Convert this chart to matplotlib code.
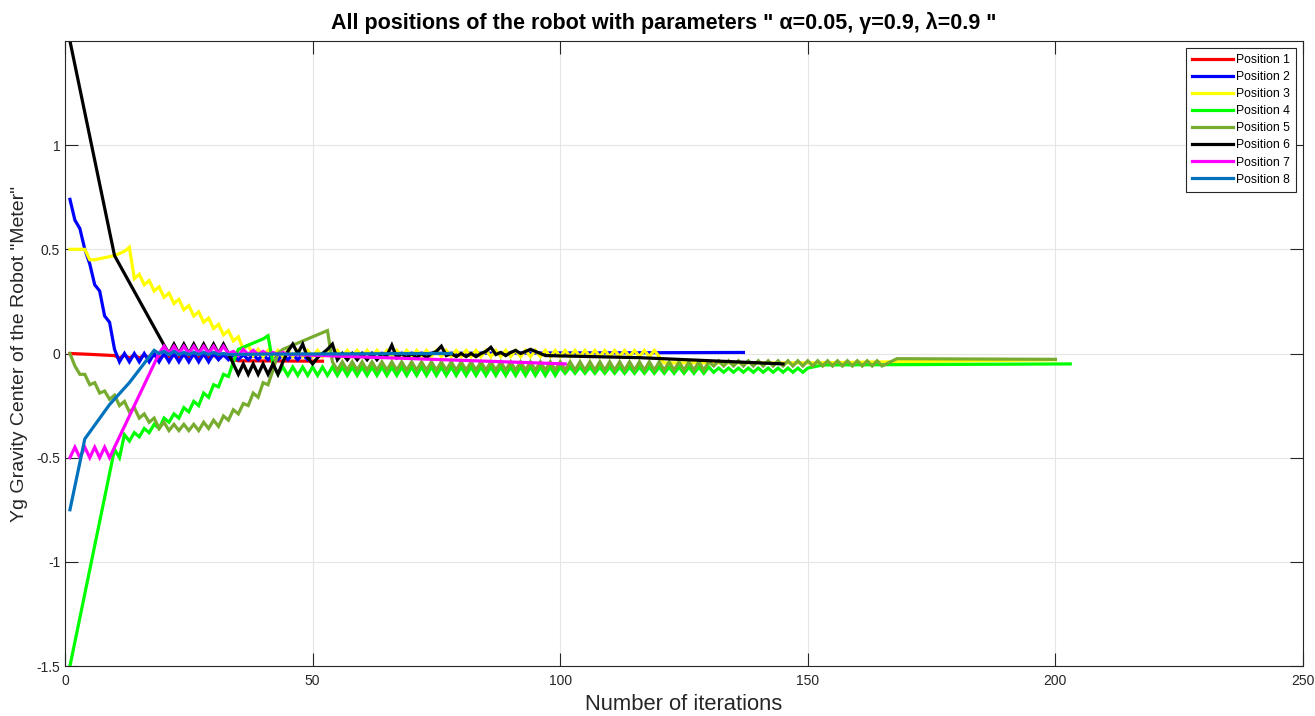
# positions of the robot (Yg of gravity center) vs. iterations
import matplotlib
matplotlib.use("Agg")
import matplotlib.pyplot as plt

plt.rcParams['font.family'] = ['Liberation Sans', 'DejaVu Sans']

# ---- data ----
p1_it = [1, 5, 10] + list(range(11, 34)) + [35, 52]
p1_y = [0.0, -0.004, -0.01,
        -0.022, -0.008, -0.022, -0.008, -0.022, -0.008, -0.022, -0.008, -0.022, -0.008, -0.022, -0.008,
        -0.022, -0.008, -0.022, -0.008, -0.022, -0.008, -0.022, -0.008, -0.022, -0.008, -0.022,
        -0.035, -0.037]

p2_it = list(range(1, 51)) + [60, 137]
p2_y = [0.74, 0.64, 0.60, 0.50, 0.43, 0.33, 0.30, 0.18, 0.15, 0.02, -0.04,
        0.0, -0.04, 0.0, -0.04, 0.0, -0.04, 0.0, -0.04, 0.0, -0.04, 0.0, -0.04, 0.0, -0.04, 0.0, -0.04,
        0.0, -0.04, 0.0,
        -0.03, -0.005, -0.03, -0.005, -0.03, -0.005, -0.03, -0.005, -0.03, -0.005, -0.03, -0.005,
        -0.03, -0.005, -0.03, -0.005, -0.03, -0.005, -0.03,
        -0.01, 0.0, 0.005]

p3_it = list(range(1, 120)) + [121, 150, 200]
p3_y = [0.5, 0.5, 0.5, 0.5, 0.45, 0.45, 0.455, 0.46, 0.465, 0.47, 0.48, 0.49, 0.51,
        0.36, 0.38, 0.33, 0.35, 0.30, 0.32, 0.27, 0.29, 0.24, 0.26, 0.21, 0.23, 0.18, 0.20,
        0.15, 0.17, 0.12, 0.14, 0.09, 0.11, 0.06, 0.08, 0.02, 0.04, -0.01, 0.02, -0.015,
        0.015, -0.015, 0.015, -0.015, 0.015, -0.015, 0.015, -0.015, 0.015, -0.015,
        0.015, -0.015, 0.015, -0.015, 0.015, -0.015, 0.015, -0.015, 0.015, -0.015,
        0.015, -0.015, 0.015, -0.015, 0.015, -0.015, 0.015, -0.015, 0.015, -0.015,
        0.015, -0.015, 0.015, -0.015, 0.015, -0.015, 0.015, -0.015, 0.015, -0.015,
        0.015, -0.015, 0.015, -0.015, 0.015, -0.015, 0.015, -0.015, 0.015, -0.015,
        0.015, -0.015, 0.015, -0.015, 0.015, -0.015, 0.015, -0.015, 0.015, -0.015,
        0.015, -0.015, 0.015, -0.015, 0.015, -0.015, 0.015, -0.015, 0.015, -0.015,
        0.015, -0.015, 0.015, -0.015, 0.015, -0.015, 0.015, -0.015, 0.015,
        -0.045, -0.045, -0.03]

p4_it = [1] + list(range(10, 151)) + [153, 203]
p4_y = [-1.5, -0.46, -0.50,
        -0.39, -0.42, -0.38, -0.40, -0.36, -0.38, -0.34, -0.36, -0.31, -0.33, -0.29, -0.31,
        -0.26, -0.28, -0.23, -0.25, -0.19, -0.21, -0.15, -0.16, -0.10, -0.11, -0.04,
        0.02, 0.03, 0.04, 0.05, 0.06, 0.07, 0.085, -0.05, -0.10,
        -0.065, -0.105, -0.065, -0.105, -0.065, -0.105, -0.065, -0.105, -0.065, -0.105,
        -0.065, -0.105, -0.065, -0.105, -0.065, -0.105, -0.065, -0.105, -0.065, -0.105,
        -0.065, -0.105, -0.065, -0.105, -0.065, -0.105, -0.065, -0.105, -0.065, -0.105,
        -0.065, -0.105, -0.065, -0.105, -0.065, -0.105, -0.065, -0.105, -0.065, -0.105,
        -0.065, -0.105, -0.065, -0.105, -0.065, -0.105, -0.065, -0.105, -0.065, -0.105,
        -0.065, -0.105, -0.065, -0.105, -0.065, -0.105, -0.065,
        -0.095, -0.065, -0.095, -0.065, -0.095, -0.065, -0.095, -0.065, -0.095, -0.065,
        -0.095, -0.065, -0.095, -0.065, -0.095, -0.065, -0.095, -0.065, -0.095, -0.065,
        -0.095, -0.065, -0.095, -0.065, -0.095, -0.065, -0.095, -0.065, -0.095, -0.065,
        -0.09, -0.07, -0.09, -0.07, -0.09, -0.07, -0.09, -0.07, -0.09, -0.07,
        -0.09, -0.07, -0.09, -0.07, -0.09, -0.07, -0.09, -0.07, -0.09, -0.07,
        -0.055, -0.05]

p5_it = list(range(1, 166)) + [168, 200]
p5_y = [0.0, -0.06, -0.10, -0.10, -0.15, -0.14, -0.19, -0.18, -0.22, -0.20,
        -0.25, -0.23, -0.28, -0.26, -0.31, -0.29, -0.33, -0.31, -0.36, -0.33,
        -0.37, -0.34, -0.37, -0.34, -0.37, -0.34, -0.37, -0.33, -0.36, -0.32,
        -0.35, -0.30, -0.32, -0.27, -0.29, -0.24, -0.25, -0.19, -0.21, -0.14,
        -0.15, -0.08, 0.0, 0.02, 0.03, 0.04, 0.05, 0.06, 0.07, 0.08,
        0.09, 0.10, 0.11, -0.04,
        -0.08, -0.04, -0.08, -0.04, -0.08, -0.04, -0.08, -0.04, -0.08, -0.04,
        -0.08, -0.04, -0.08, -0.04, -0.08, -0.04, -0.08, -0.04, -0.08, -0.04,
        -0.08, -0.04, -0.08, -0.04, -0.08, -0.04, -0.08, -0.04, -0.08, -0.04,
        -0.08, -0.04, -0.08, -0.04, -0.08, -0.04, -0.08, -0.04, -0.08, -0.04,
        -0.08, -0.04, -0.08, -0.04, -0.08, -0.04, -0.08, -0.04, -0.08, -0.04,
        -0.08, -0.04, -0.08, -0.04, -0.08, -0.04, -0.08, -0.04, -0.08, -0.04,
        -0.08, -0.04, -0.08, -0.04, -0.08, -0.04, -0.08, -0.04, -0.08, -0.04,
        -0.08, -0.04, -0.08, -0.04, -0.08, -0.04,
        -0.06, -0.035, -0.06, -0.035, -0.06, -0.035, -0.06, -0.035, -0.06, -0.035,
        -0.06, -0.035, -0.06, -0.035, -0.06, -0.035, -0.06, -0.035, -0.06, -0.035,
        -0.06, -0.035, -0.06, -0.035, -0.06, -0.035, -0.06, -0.035, -0.06, -0.035,
        -0.06, -0.035, -0.06, -0.035, -0.06,
        -0.025, -0.028]

p6_it = [1, 10] + list(range(20, 98)) + [116, 145]
p6_y = [1.5, 0.47,
        0.04, 0.0, 0.045, 0.0, 0.045, 0.0, 0.045, 0.0, 0.045, 0.0, 0.045, 0.0, 0.045, 0.0,
        -0.05, -0.10, -0.05, -0.10, -0.05, -0.10, -0.05, -0.10, -0.05, -0.10,
        -0.04, 0.01, 0.045, 0.0, 0.045, -0.02, -0.05, -0.02, 0.0, 0.02, 0.045,
        -0.03, 0.0, -0.03, 0.0, -0.03, 0.0, -0.03, 0.0, -0.03, 0.0, -0.01,
        0.04, -0.02, 0.0, -0.02, 0.0, -0.02, 0.0, -0.02, 0.0, 0.01,
        0.035, -0.01, 0.0, -0.015, 0.0, -0.015, 0.0, -0.015, 0.0, 0.01,
        0.03, -0.005, 0.005, -0.01, 0.005, 0.015, 0.0, 0.01, 0.02, 0.01, 0.0, -0.01,
        -0.02, -0.05]

p7_it = list(range(1, 10)) + list(range(19, 47)) + [101]
p7_y = [-0.5, -0.45, -0.5, -0.45, -0.5, -0.45, -0.5, -0.45, -0.5,
        0.0, 0.035, 0.0, 0.035, 0.0, 0.035, 0.0, 0.035, 0.0, 0.035, 0.0, 0.035, 0.0, 0.035, 0.0,
        0.01, -0.01, 0.02, -0.005, 0.015, -0.005, 0.01, -0.005, 0.005, -0.005, 0.005, -0.005,
        -0.005, -0.05]

p8_it = [1, 4, 9, 13, 18] + list(range(19, 34)) + [40, 78]
p8_y = [-0.75, -0.41, -0.245, -0.14, 0.015,
        0.0, 0.01, -0.005, 0.01, -0.005, 0.005, -0.005, 0.005, -0.005, 0.005, -0.005, 0.005,
        -0.005, 0.0, -0.005,
        -0.003, 0.0]

series = [
    (p1_it, p1_y, '#FF0000', 'Position 1'),
    (p2_it, p2_y, '#0000FF', 'Position 2'),
    (p3_it, p3_y, '#FFFF00', 'Position 3'),
    (p4_it, p4_y, '#00FF00', 'Position 4'),
    (p5_it, p5_y, '#77AC30', 'Position 5'),
    (p6_it, p6_y, '#000000', 'Position 6'),
    (p7_it, p7_y, '#FF00FF', 'Position 7'),
    (p8_it, p8_y, '#0072BD', 'Position 8'),
]

fig = plt.figure(figsize=(13.15, 7.16), dpi=100)
ax = fig.add_axes([65 / 1315, 50 / 716, 1238 / 1315, 625 / 716])

for it, y, col, lab in series:
    ax.plot(it, y, color=col, lw=2.3, label=lab, solid_joinstyle='miter')

ax.set_xlim(0, 250)
ax.set_ylim(-1.5, 1.5)
ax.set_xticks([0, 50, 100, 150, 200, 250])
ax.set_yticks([-1.5, -1, -0.5, 0, 0.5, 1])
ax.set_yticklabels(['-1.5', '-1', '-0.5', '0', '0.5', '1'])

ax.grid(True, color='#E6E6E6', lw=0.8)
ax.set_axisbelow(True)
ax.tick_params(direction='in', length=9.5, width=0.8, top=True, right=True,
               labelsize=10, colors='#262626')
ax.tick_params(axis='x', pad=6)
for s in ax.spines.values():
    s.set_color('#262626')
    s.set_linewidth(0.8)

# title sits a bit left of the axes centre in the original
ax.set_title('All positions of the robot with parameters " α=0.05, γ=0.9, λ=0.9 "',
             fontsize=15.5, fontweight='bold', pad=9, x=0.484)
ax.set_xlabel('Number of iterations', fontsize=15.8, color='#262626', labelpad=4)
ax.set_ylabel('Yg Gravity Center of the Robot "Meter"', fontsize=14, color='#262626', labelpad=6)

leg = ax.legend(loc='upper right', fontsize=8.8, handlelength=3.3, handletextpad=0.3,
                labelspacing=0.42, borderpad=0.5, borderaxespad=0.55, fancybox=False,
                framealpha=1, edgecolor='#262626')
leg.get_frame().set_linewidth(0.8)

fig.savefig('out.png', dpi=100)
